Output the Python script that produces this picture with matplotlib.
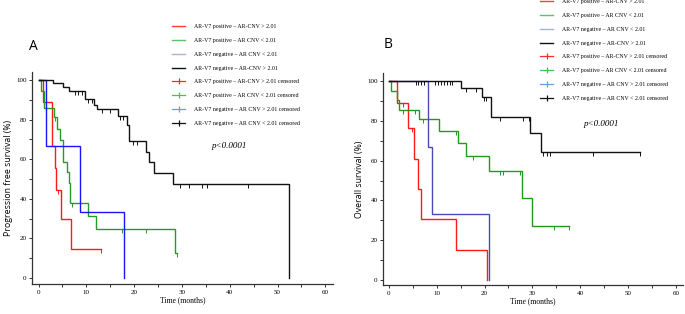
import numpy as np
import matplotlib
matplotlib.use("Agg")
import matplotlib.pyplot as plt
from matplotlib.lines import Line2D
from matplotlib.ticker import MultipleLocator

# ---- data ----
# Panel A: progression free survival
pfs_red_t = [0, 1.0, 2.8, 3.45, 3.7, 4.7, 6.7, 13.0]
pfs_red_s = [100, 88.9, 66.7, 55.6, 44.4, 29.6, 14.8, 14.8]
pfs_red_cens = [4.1, 13.0]

pfs_green_t = [0, 0.45, 1.2, 3.3, 3.9, 4.6, 5.2, 5.9, 6.3, 6.5, 10.4, 12.0, 28.5, 29.0]
pfs_green_s = [100, 94.3, 85.7, 81.2, 75.1, 69.7, 58.7, 53.7, 47.8, 37.7, 31.3, 24.7, 12.5, 12.5]
pfs_green_cens = [3.45, 7.1, 17.4, 22.5, 29.0]

pfs_blue_t = [0, 1.6, 8.7, 17.9]
pfs_blue_s = [100, 66.7, 33.3, 0]
pfs_blue_cens = []

pfs_black_t = [0, 3.0, 5.1, 6.4, 9.7, 11.7, 12.2, 16.7, 18.5, 19.0, 22.5, 23.1, 24.2, 28.1, 52.3]
pfs_black_s = [100, 98.2, 96.3, 94.4, 90.4, 87.5, 85.3, 81.6, 77.3, 69.0, 63.8, 58.4, 53.2, 47.5, 0]
pfs_black_cens = [7.6, 8.3, 9.0, 10.4, 11.1, 13.2, 15.0, 17.0, 17.7, 19.7, 20.7,
                  29.6, 31.5, 34.1, 35.2, 43.9]

# Panel B: overall survival
os_red_t = [0, 1.75, 4.0, 5.3, 6.1, 6.6, 14.0, 20.6]
os_red_s = [100, 88.9, 76.2, 61.0, 45.7, 30.5, 15.2, 0]
os_red_cens = [2.9, 4.9]

os_green_t = [0, 0.4, 1.75, 2.1, 6.3, 10.5, 14.5, 16.2, 21.0, 27.9, 29.9, 37.7]
os_green_s = [100, 95.2, 90.5, 85.7, 81.0, 75.0, 68.7, 62.5, 54.6, 41.0, 27.3, 27.3]
os_green_cens = [3.0, 5.4, 7.2, 14.0, 17.6, 23.2, 23.8, 27.4, 34.6, 37.7]

os_blue_t = [0, 8.2, 9.1, 21.0]
os_blue_s = [100, 66.7, 33.3, 0]
os_blue_cens = []

os_black_t = [0, 15.05, 19.5, 21.4, 29.6, 31.9, 52.5]
os_black_s = [100, 96.6, 92.1, 81.8, 73.8, 64.5, 64.5]
os_black_cens = [5.6, 6.1, 6.6, 7.3, 9.6, 10.2, 10.8, 11.5, 12.1, 12.8, 13.2,
                 16.2, 18.3, 19.9, 20.3, 23.2, 28.0, 29.2, 32.2, 33.0, 33.7, 42.6, 52.5]

legend_labels = [
    "AR-V7 positive \u2013 AR-CNV > 2.01",
    "AR-V7 positive \u2013 AR CNV < 2.01",
    "AR-V7 negative \u2013 AR CNV < 2.01",
    "AR-V7 negative \u2013 AR-CNV > 2.01",
    "AR-V7 positive \u2013 AR-CNV > 2.01 censored",
    "AR-V7 positive \u2013 AR CNV < 2.01 censored",
    "AR-V7 negative \u2013 AR CNV > 2.01 censored",
    "AR-V7 negative \u2013 AR CNV < 2.01 censored",
]
legend_line_colors = ["#ff3a3a", "#5cc26c", "#a9b4cf", "#111111"]
legend_plus_colors = ["#ff2a2a", "#3cc35a", "#6e9be0", "#111111"]

SERIF = "Liberation Serif"
SANS = "Open Sans"


def surv_at(t, s, x):
    idx = np.searchsorted(np.asarray(t), x, side="right") - 1
    return np.asarray(s)[idx]


def draw_km(ax, t, s, cens, color):
    ax.step(t, s, where="post", color=color, lw=1.0, solid_joinstyle="miter")
    if cens:
        ys = [surv_at(t, s, c) for c in cens]
        ax.plot(cens, ys, ls="none", marker=3, ms=2.6, mew=0.7, color=color)


def style_axes(ax, xlim, ylim):
    ax.set_xlim(*xlim)
    ax.set_ylim(*ylim)
    for side in ["top", "right"]:
        ax.spines[side].set_visible(False)
    for side in ["left", "bottom"]:
        ax.spines[side].set_linewidth(0.9)
        ax.spines[side].set_color("#333333")
    ax.set_xticks(range(0, 61, 10))
    ax.set_yticks(range(0, 101, 20))
    ax.xaxis.set_minor_locator(MultipleLocator(5))
    ax.yaxis.set_minor_locator(MultipleLocator(10))
    ax.tick_params(which="both", direction="out", width=0.7, color="#333333",
                   labelsize=5, pad=1.5)
    ax.tick_params(which="major", length=2.5)
    ax.tick_params(which="minor", length=2.0)
    for lab in ax.get_xticklabels() + ax.get_yticklabels():
        lab.set_fontfamily(SERIF)
    ax.set_xlabel("Time (months)", fontsize=5.5, fontfamily=SERIF, labelpad=1.5)


def add_legend(fig, x, y):
    handles = [Line2D([0], [0], color=c, lw=1.0) for c in legend_line_colors]
    handles += [Line2D([0], [0], color=c, lw=0.9, marker="|", ms=5, mew=0.9)
                for c in legend_plus_colors]
    fig.legend(handles, legend_labels, loc="upper left", bbox_to_anchor=(x, y),
               frameon=False, prop={"family": SERIF, "size": 4.2},
               handlelength=2.3, handletextpad=1.5, labelspacing=1.5,
               borderpad=0, borderaxespad=0)


fig = plt.figure(figsize=(6.85, 3.14), dpi=100)

# Panel A
axA = fig.add_axes([32 / 685, 1 - 284 / 314, 301 / 685, 212 / 314])
draw_km(axA, pfs_red_t, pfs_red_s, pfs_red_cens, "#ff1a1a")
draw_km(axA, pfs_green_t, pfs_green_s, pfs_green_cens, "#259a25")
draw_km(axA, pfs_blue_t, pfs_blue_s, pfs_blue_cens, "#1515ff")
draw_km(axA, pfs_black_t, pfs_black_s, pfs_black_cens, "#111111")
style_axes(axA, (-1.36, 61.6), (-3.0, 104.0))
axA.set_ylabel("Progression free survival (%)", fontsize=6.3, fontfamily=SANS, labelpad=2)
axA.text(0.654, 0.652, "p<0.0001", transform=axA.transAxes, fontsize=6.5,
         fontstyle="italic", fontfamily=SERIF, ha="center", va="center")
fig.text(33 / 685, 1 - 46 / 314, "A", fontsize=10, fontfamily=SANS, ha="center", va="center")
add_legend(fig, 172 / 685, 1 - 24 / 314)

# Panel B
axB = fig.add_axes([383 / 685, 1 - 285 / 314, 300 / 685, 212.3 / 314])
draw_km(axB, os_red_t, os_red_s, os_red_cens, "#ff1a1a")
draw_km(axB, os_green_t, os_green_s, os_green_cens, "#1f9a1f")
draw_km(axB, os_blue_t, os_blue_s, os_blue_cens, "#4a4ab8")
draw_km(axB, os_black_t, os_black_s, os_black_cens, "#111111")
style_axes(axB, (-1.25, 61.5), (-2.5, 104.2))
axB.set_ylabel("Overall survival (%)", fontsize=6.3, fontfamily=SANS, labelpad=2)
axB.text(0.726, 0.758, "p<0.0001", transform=axB.transAxes, fontsize=6.5,
         fontstyle="italic", fontfamily=SERIF, ha="center", va="center")
fig.text(388 / 685, 1 - 45 / 314, "B", fontsize=10, fontfamily=SANS, ha="center", va="center")
add_legend(fig, 540 / 685, 1 + 1 / 314)

fig.savefig("out.png", dpi=100)
